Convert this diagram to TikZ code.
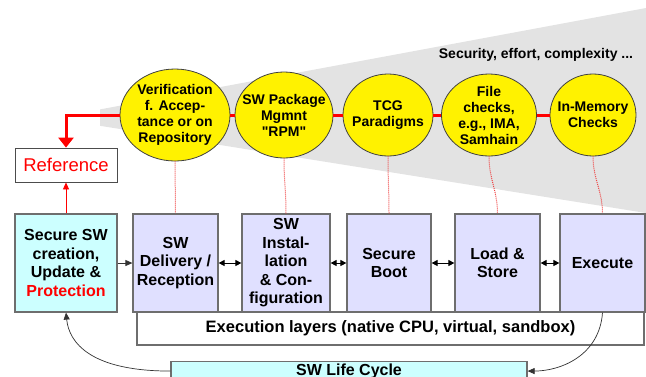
\documentclass[tikz,border=0pt]{standalone}
\usepackage{fontspec}
\setmainfont{Liberation Sans}
\usetikzlibrary{shapes.geometric,arrows.meta}
\definecolor{wedgegray}{HTML}{E3E3E3}
\definecolor{stagefill}{HTML}{E0E0FF}
\definecolor{sourcefill}{HTML}{CCFFFF}
\definecolor{framegray}{HTML}{6E6E6E}
\definecolor{linkred}{HTML}{FF0000}
\definecolor{dotred}{HTML}{EE4444}

\begin{document}
\begin{tikzpicture}[x=1pt,y=-1pt,
  oval/.style={ellipse, draw=black!75, line width=0.8pt, fill=yellow,
    inner sep=-20pt, align=center, font=\bfseries\fontsize{14}{16}\selectfont},
  stagebox/.style={rectangle, draw=framegray, line width=1.2pt, fill=stagefill,
    minimum height=98pt, inner sep=0pt, align=center,
    font=\bfseries\fontsize{16}{18.5}\selectfont},
  flow/.style={draw=black!80, line width=0.7pt, -{Triangle[length=7pt,width=6pt]}},
  twoway/.style={draw=black, line width=0.9pt, {Triangle[length=6pt,width=6pt]}-{Triangle[length=6pt,width=6pt]}},
  redlink/.style={draw=linkred, line width=3pt},
  dotlink/.style={draw=dotred, line width=1pt, dash pattern=on 1pt off 1pt}
]
\useasboundingbox (0,0) rectangle (646,376);
\clip (0,0) rectangle (646,376);

% widening band behind the check methods
\fill[wedgegray] (100,109.4) -- (646,8) -- (646,213) -- (100,125.8) -- cycle;

\node[font=\bfseries\fontsize{14}{16}\selectfont] (scale) at (536,55) {Security, effort, complexity ...};

% execution layers strip underneath the stages
\node[rectangle, draw=framegray, line width=1.2pt, fill=white, minimum width=507pt,
  minimum height=33pt, inner sep=0pt, font=\bfseries\fontsize{16.5}{18}\selectfont]
  (layers) at (390.5,328.5) {Execution layers (native CPU, virtual, sandbox)};

% life cycle stages
\node[stagebox, fill=sourcefill, minimum width=102pt] (sec) at (66,263)
  {Secure SW\\creation,\\Update \&\\\textcolor{linkred}{Protection}};
\node[stagebox, minimum width=85pt] (del) at (175.5,263) {SW\\Delivery /\\Reception};
\node[stagebox, minimum width=88pt] (inst) at (286,263) {SW\\Instal-\\lation\\\& Con-\\figuration};
\node[stagebox, minimum width=84pt] (boot) at (389,263) {Secure\\Boot};
\node[stagebox, minimum width=85pt] (load) at (497.5,263) {Load \&\\Store};
\node[stagebox, minimum width=85pt] (exe) at (602.5,263) {Execute};

% life cycle bar at the bottom, running off the lower edge
\node[rectangle, draw=framegray, line width=1.2pt, fill=sourcefill, anchor=north,
  minimum width=356pt, inner xsep=0pt, inner ysep=2pt,
  font=\bfseries\fontsize{16}{18}\selectfont] (life) at (349,361) {SW Life Cycle};

% reference box
\node[rectangle, draw=black!70, line width=0.8pt, fill=white, minimum width=102pt,
  minimum height=34pt, inner sep=0pt, text=linkred,
  font=\fontsize{18.5}{20}\selectfont] (ref) at (66,165) {Reference};

% verification methods
\node[oval, minimum width=110pt, minimum height=92pt] (ver) at (175,115)
  {Verification\\f. Accep-\\tance or on\\Repository};
\node[oval, minimum width=98pt, minimum height=86pt] (pkg) at (284,115)
  {SW Package\\Mgmnt\\\textquotedbl RPM\textquotedbl};
\node[oval, minimum width=90pt, minimum height=82pt] (tcg) at (388,115)
  {TCG\\Paradigms};
\node[oval, minimum width=95pt, minimum height=82pt] (file) at (489,115)
  {File\\checks,\\e.g., IMA,\\Samhain};
\node[oval, minimum width=86pt, minimum height=82pt] (mem) at (593,115)
  {In-Memory\\Checks};

% red chain of methods and link to the reference
\draw[redlink] (ver.east) -- (pkg.west);
\draw[redlink] (pkg.east) -- (tcg.west);
\draw[redlink] (tcg.east) -- (file.west);
\draw[redlink] (file.east) -- (mem.west);
\draw[redlink, -{Triangle[length=10pt,width=15pt]}] (ver.west) -| (ref.north);
\draw[draw=linkred, line width=0.8pt, -{Triangle[length=7pt,width=6pt]}] (sec.north) -- (ref.south);

% methods applied at each stage
\draw[dotlink] (ver.south) -- (del.north);
\draw[dotlink] (pkg.south) to[out=-90,in=90] (inst.north);
\draw[dotlink] (tcg.south) to[out=-90,in=90] (boot.north);
\draw[dotlink] (file.south) to[out=-90,in=90] (load.north);
\draw[dotlink] (mem.south) to[out=-90,in=90] (exe.north);

% stage transitions
\draw[flow] (sec.east) -- (del.west);
\draw[twoway] (del.east) -- (inst.west);
\draw[twoway] (inst.east) -- (boot.west);
\draw[twoway] (boot.east) -- (load.west);
\draw[twoway] (load.east) -- (exe.west);

% closing the cycle
\draw[flow] (exe.south) .. controls +(-3,43) and +(33,0) .. (life.east);
\draw[flow] (life.west) .. controls +(-80,0) and +(3,30) .. (sec.south);
\end{tikzpicture}
\end{document}
